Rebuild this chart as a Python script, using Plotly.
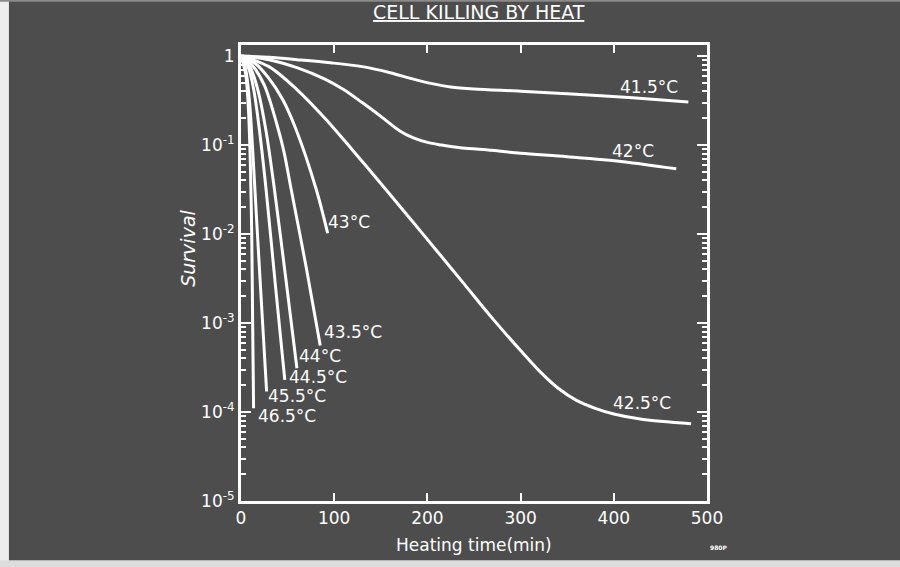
import plotly.graph_objects as go

# ---------------- data ----------------
temps = ["41.5°C", "42°C", "42.5°C", "43°C", "43.5°C", "44°C", "44.5°C", "45.5°C", "46.5°C"]

t_415 = [0, 30, 60, 96, 130, 160, 185, 205, 225, 250, 300, 350, 420, 480]
s_415 = [1.0, 0.966, 0.91, 0.84, 0.76, 0.65, 0.55, 0.49, 0.45, 0.427, 0.403, 0.376, 0.339, 0.304]

t_42 = [0, 30, 60, 90, 110, 130, 150, 170, 185, 200, 215, 235, 260, 300, 350, 410, 467]
s_42 = [1.0, 0.91, 0.74, 0.55, 0.42, 0.30, 0.21, 0.145, 0.120, 0.107, 0.100, 0.093,
        0.089, 0.081, 0.074, 0.065, 0.054]

t_425 = [0, 30, 60, 90, 120, 150, 180, 210, 240, 270, 300, 320, 340, 360, 380, 400, 430, 483]
s_425 = [1.0, 0.76, 0.42, 0.20, 0.087, 0.037, 0.0155, 0.0065, 0.0027, 0.00112,
         0.00049, 0.00029, 0.000186, 0.000135, 0.00011, 0.000095, 0.000083, 0.000074]

t_43 = [0, 15, 30, 45, 60, 81, 93]
s_43 = [1.0, 0.83, 0.56, 0.32, 0.141, 0.031, 0.0102]

t_435 = [0, 12, 25, 38, 46, 54, 70, 85]
s_435 = [1.0, 0.79, 0.47, 0.178, 0.085, 0.031, 0.0042, 0.00056]

t_44 = [0, 10, 18, 27, 36, 48, 60]
s_44 = [1.0, 0.74, 0.42, 0.141, 0.031, 0.0032, 0.00031]

t_445 = [0, 8, 14, 20, 27, 37, 47]
s_445 = [1.0, 0.74, 0.40, 0.141, 0.031, 0.0026, 0.00023]

t_455 = [0, 5, 9, 12.5, 16, 21.5, 27.5]
s_455 = [1.0, 0.71, 0.32, 0.089, 0.020, 0.0020, 0.00017]

t_465 = [0, 5, 8, 10, 11.5, 12.5, 13.5]
s_465 = [1.0, 0.63, 0.25, 0.063, 0.01, 0.001, 0.00011]

times = [t_415, t_42, t_425, t_43, t_435, t_44, t_445, t_455, t_465]
survs = [s_415, s_42, s_425, s_43, s_435, s_44, s_445, s_455, s_465]

# label anchor positions (time, log10 survival)
label_x = [406, 397, 398, 92, 88, 61, 50, 28, 17]
label_logy = [-0.35, -1.07, -3.90, -1.87, -3.10, -3.37, -3.61, -3.82, -4.05]

x_ticks = [0, 100, 200, 300, 400, 500]
x_ticktext = ["0", "100", "200", "300", "400", "500"]
y_ticks = [1, 0.1, 0.01, 0.001, 0.0001, 0.00001]
y_ticktext = ["1", "10<sup>-1</sup>", "10<sup>-2</sup>", "10<sup>-3</sup>",
              "10<sup>-4</sup>", "10<sup>-5</sup>"]

# ---------------- figure ----------------
BG = "#4d4d4d"
FONT = "DejaVu Sans"
fig = go.Figure()

for t, s, name in zip(times, survs, temps):
    fig.add_trace(go.Scatter(
        x=t, y=s, mode="lines", name=name,
        line=dict(color="white", width=3, shape="spline", smoothing=0.9),
        showlegend=False, hoverinfo="skip"))

for name, lx, ly in zip(temps, label_x, label_logy):
    fig.add_annotation(x=lx, y=ly, xref="x", yref="y", text=name,
                       showarrow=False, xanchor="left", yanchor="middle",
                       borderpad=0,
                       font=dict(family=FONT, size=17, color="white"))

# title
fig.add_annotation(x=0.511, y=1.072, xref="paper", yref="paper",
                   text="<u>CELL KILLING BY HEAT</u>", showarrow=False,
                   xanchor="center", yanchor="middle",
                   font=dict(family=FONT, size=19, color="white"))
# axis titles
fig.add_annotation(x=0.50, y=-0.096, xref="paper", yref="paper",
                   text="Heating time(min)", showarrow=False,
                   xanchor="center", yanchor="middle",
                   font=dict(family=FONT, size=17, color="white"))
fig.add_annotation(x=-0.114, y=0.555, xref="paper", yref="paper",
                   text="<i>Survival</i>", showarrow=False, textangle=-90,
                   xanchor="center", yanchor="middle",
                   font=dict(family=FONT, size=19, color="white"))
fig.add_annotation(x=1.026, y=-0.103, xref="paper", yref="paper",
                   text="<b>980P</b>", showarrow=False,
                   xanchor="center", yanchor="middle",
                   font=dict(family=FONT, size=6, color="white"))

# photo frame strips
fig.add_shape(type="rect", xref="paper", yref="paper", x0=-0.52, x1=-0.498,
              y0=-0.2, y1=1.2, fillcolor="#eeeeee", line_width=0, layer="below")
fig.add_shape(type="rect", xref="paper", yref="paper", x0=-0.52, x1=1.5,
              y0=-0.2, y1=-0.13, fillcolor="#dddddd", line_width=0, layer="below")
fig.add_shape(type="rect", xref="paper", yref="paper", x0=-0.52, x1=1.5,
              y0=1.095, y1=1.2, fillcolor="#8a8a8a", line_width=0, layer="below")

axis_common = dict(showline=True, linecolor="white", linewidth=3,
                   mirror="allticks", ticks="inside", tickcolor="white",
                   showgrid=False, zeroline=False,
                   tickfont=dict(family=FONT, size=17, color="white"))

fig.update_xaxes(range=[0, 500], tickvals=x_ticks, ticktext=x_ticktext,
                 ticklen=8, tickwidth=2, **axis_common)
fig.update_yaxes(type="log", range=[-5, 0.124], tickvals=y_ticks,
                 ticktext=y_ticktext, ticklen=10, tickwidth=2,
                 minor=dict(ticks="inside", ticklen=5, tickwidth=1.5,
                            tickcolor="white", dtick="D1", showgrid=False),
                 **axis_common)

fig.update_layout(width=900, height=567,
                  margin=dict(l=241, r=193, t=45, b=66),
                  paper_bgcolor=BG, plot_bgcolor=BG,
                  font=dict(family=FONT, color="white"))

fig.write_html("out.html", config={"displayModeBar": False},
               post_script="document.body.style.margin='0';")
